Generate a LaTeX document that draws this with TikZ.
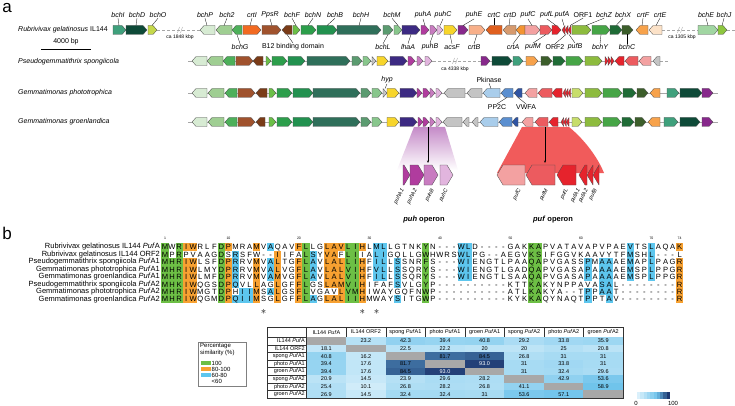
\documentclass[tikz,border=0pt]{standalone}
\usepackage{fontspec}
\setmainfont{Liberation Sans}
\usetikzlibrary{arrows.meta}

% gene colours
\definecolor{cI}{HTML}{3FA07C}
\definecolor{cD}{HTML}{0E4A38}
\definecolor{cO}{HTML}{C5D84B}
\definecolor{cP}{HTML}{D7EBD3}
\definecolor{cTwo}{HTML}{9FCE92}
\definecolor{cG}{HTML}{4DB05A}
\definecolor{cCrtI}{HTML}{F26A21}
\definecolor{cPpsR}{HTML}{A0522D}
\definecolor{cBtw}{HTML}{7A3B17}
\definecolor{cF}{HTML}{6BBF47}
\definecolor{cN}{HTML}{2C9E4B}
\definecolor{cB}{HTML}{22914F}
\definecolor{cH}{HTML}{2F6F5A}
\definecolor{cL}{HTML}{5B9B70}
\definecolor{cM}{HTML}{88C68C}
\definecolor{cLhaA}{HTML}{3C2A82}
\definecolor{cPuhA}{HTML}{B03C9E}
\definecolor{cPuhB}{HTML}{C87CC0}
\definecolor{cPuhC}{HTML}{E2B5DE}
\definecolor{cAcsF}{HTML}{F7D52B}
\definecolor{cPuhE}{HTML}{87288B}
\definecolor{cCrtB}{HTML}{F8B08A}
\definecolor{cCrtC}{HTML}{E0601F}
\definecolor{cCrtD}{HTML}{D69A6E}
\definecolor{cCrtA}{HTML}{F39432}
\definecolor{cPufC}{HTML}{F3A1A1}
\definecolor{cPufM}{HTML}{EC5B5F}
\definecolor{cPufL}{HTML}{E6232C}
\definecolor{cZ}{HTML}{8DBB3E}
\definecolor{cY}{HTML}{46A546}
\definecolor{cX}{HTML}{1F6B36}
\definecolor{cC}{HTML}{3C5E2B}
\definecolor{cCrtF}{HTML}{F7A24B}
\definecolor{cCrtE}{HTML}{FCE2C8}
\definecolor{cE}{HTML}{A1D6A2}
\definecolor{cJ}{HTML}{8DC63F}
\definecolor{cGrey}{HTML}{C4C4C4}
\definecolor{cPk}{HTML}{A9CDEB}
\definecolor{cPP}{HTML}{5B8FD0}
\definecolor{cVW}{HTML}{2F54A3}
\definecolor{cYg}{HTML}{C7DD6A}
\definecolor{cPufRed}{HTML}{F15B5B}
\definecolor{cPuhShade}{HTML}{C58BC8}
% alignment and table colours
\definecolor{alng}{HTML}{6DBF45}
\definecolor{alno}{HTML}{F7A131}
\definecolor{alnb}{HTML}{5DC6EE}
\definecolor{alnw}{HTML}{FFFFFF}
\definecolor{tabLow}{HTML}{E4F4FC}
\definecolor{tabMid}{HTML}{6EC3EB}
\definecolor{tabTop}{HTML}{13245F}
\definecolor{cellgrey}{HTML}{A8A8A8}

\tikzset{
  genebox/.style={draw=gray!60!black, line width=0.3pt, line join=round},
  glabel/.style={font=\fontsize{7}{8}\selectfont\itshape, inner sep=0.5pt},
  oplabel/.style={font=\fontsize{5.5}{6}\selectfont\itshape, inner sep=0.3pt, rotate=62, anchor=east},
  leader/.style={line width=0.3pt},
  backbone/.style={draw=gray!70, line width=0.4pt},
  gap/.style={draw=gray!70, line width=0.4pt, dash pattern=on 3pt off 2pt},
  breakline/.style={draw=gray!70, line width=0.4pt},
  gaplabel/.style={font=\fontsize{5}{6}\selectfont, inner sep=0pt},
  species/.style={font=\fontsize{7}{8}\selectfont, inner sep=0pt, anchor=west},
  alnspec/.style={font=\fontsize{7.5}{8}\selectfont, inner sep=0pt, anchor=east},
  res/.style={font=\fontsize{7.6}{8}\selectfont, inner sep=0pt, text height=5.5pt, text depth=0pt},
  tick/.style={font=\fontsize{3.5}{4}\selectfont, inner sep=0pt},
  tabtxt/.style={font=\fontsize{5.5}{6}\selectfont, inner sep=0pt},
  tabline/.style={draw=black!80, line width=0.3pt},
  panel/.style={font=\fontsize{17}{17}\selectfont, inner sep=0pt},
}

% one gene as an arrow, #5 = r or l
\def\geneh{4.5}
\def\genetip{4}
\newcommand\gene[5]{%
  \if#5r
    \filldraw[genebox, fill=#4] (#1,#3-\geneh) -- ({max(#1,#2-\genetip)},#3-\geneh) -- (#2,#3)
      -- ({max(#1,#2-\genetip)},#3+\geneh) -- (#1,#3+\geneh) -- cycle;
  \else
    \filldraw[genebox, fill=#4] (#2,#3-\geneh) -- ({min(#2,#1+\genetip)},#3-\geneh) -- (#1,#3)
      -- ({min(#2,#1+\genetip)},#3+\geneh) -- (#2,#3+\geneh) -- cycle;
  \fi}
\newcommand\breakmark[2]{%
  \draw[breakline] (#1-2.5,#2+3) -- (#1-0.5,#2-3) (#1+0.5,#2+3) -- (#1+2.5,#2-3);}

% alignment: one row from a residue string and a shade string
\newcount\alncol
\newcommand\alnrow[3]{%
  \global\alncol=0
  \def\alnrowno{#1}%
  \alnnext#2\relax#3\relax}
\def\alnnext#1#2\relax#3#4\relax{%
  \global\advance\alncol by 1
  \alncell{#1}{#3}%
  \ifx\relax#2\relax\else\alnnext#2\relax#4\relax\fi}
\newcommand\alncell[2]{%
  \pgfmathsetmacro\cellx{165+(\the\alncol-1)*7.05}%
  \pgfmathsetmacro\celly{247+(\alnrowno-1)*7.45}%
  \fill[aln#2] (\cellx-3.53,\celly-3.73) rectangle (\cellx+3.53,\celly+3.73);
  \node[res] (aln\alnrowno-\the\alncol) at (\cellx,\celly) {#1};}

\begin{document}
\begin{tikzpicture}[x=1pt, y=-1pt]
  \useasboundingbox (0,0) rectangle (735,406);

  \node[panel] (pa) at (7,8) {a};
  \node[panel] (pb) at (7,233) {b};

  % backbones and gaps
  \draw[gap] (157,30) -- (200,30) (662,30) -- (698,30) (727,30) -- (735,30);
  \draw[backbone] (188,61) -- (433,61) (481,61) -- (660,61);
  \draw[gap] (433,61) -- (481,61) (660,61) -- (668,61);
  \draw[backbone] (188,93) -- (718,93);
  \draw[backbone] (188,122) -- (718,122);
  \breakmark{180}{30}
  \breakmark{680}{30}
  \breakmark{455}{61}
  \node[gaplabel] (gap1) at (180,37) {ca 1848 kbp};
  \node[gaplabel] (gap2) at (682,37) {ca 1305 kbp};
  \node[gaplabel] (gap3) at (455,69) {ca 4338 kbp};

  % species
  \node[species] (sp1) at (18,30) {\textit{Rubrivivax gelatinosus} IL144};
  \node[species] (sp2) at (18,62) {\textit{Pseudogemmatithrix spongiicola}};
  \node[species] (sp3) at (18,93) {\textit{Gemmatimonas phototrophica}};
  \node[species] (sp4) at (18,122) {\textit{Gemmatimonas groenlandica}};

  % scale bar
  \node[species, anchor=center] (bar) at (66,42) {4000 bp};
  \draw[line width=0.5pt] (41,49) -- (91,49);

  % row 1
  \foreach \a/\b/\cl/\d in {113/126/cI/r, 126/147/cD/r, 148/157/cO/r,
      200/215/cP/l, 216/232/cTwo/l, 232/242/cG/l,
      243/261/cCrtI/r, 262/281/cPpsR/r, 282/292/cBtw/l,
      293/300/cF/r, 301/316/cN/r, 317/337/cB/r, 337/381/cH/r, 383/393/cL/r, 394/402/cM/r,
      402/420/cLhaA/r, 421/429/cPuhA/r, 430/437/cPuhB/r, 437/443/cPuhC/r, 444/457/cAcsF/r,
      458/468/cPuhE/r, 469/485/cCrtB/r,
      486/502/cCrtC/l, 503/516/cCrtD/l, 516/525/cCrtA/l,
      525/540/cPufC/r, 540/552/cPufM/r, 552/561/cPufL/r,
      562/565/cPufL/l, 565/568/cPufL/l, 568/571/cPufL/l,
      572/591/cZ/r, 592/610/cY/r, 610/622/cX/r, 622/633/cC/r,
      636/648/cCrtF/l, 649/662/cCrtE/l, 698/718/cE/r, 718/727/cJ/r}
    \gene{\a}{\b}{30}{\cl}{\d};

  % row 2
  \foreach \a/\b/\cl/\d in {192/207/cP/l, 207/223/cTwo/l, 223/235/cG/l, 236/253/cPpsR/r, 253/263/cBtw/l,
      266/271/cF/r, 272/287/cN/r, 288/305/cB/r, 307/350/cH/r, 352/362/cL/r, 363/371/cM/r, 372/376/cGrey/r,
      377/388/cAcsF/r, 390/407/cLhaA/r, 408/415/cPuhA/r, 417/423/cPuhB/r, 425/432/cPuhC/r,
      481/490/cPuhE/r, 492/512/cD/r, 513/523/cI/r, 526/538/cCrtF/r, 541/552/cC/r, 553/565/cX/r,
      566/583/cY/r, 585/602/cZ/r, 605/608/cPufL/r, 608/611/cPufL/r, 611/614/cPufL/r,
      615/624/cPufL/l, 625/638/cPufM/l, 639/651/cPufC/l, 653/660/cGrey/l}
    \gene{\a}{\b}{61}{\cl}{\d};

  % row 3
  \foreach \a/\b/\cl/\d in {192/207/cP/l, 208/224/cTwo/l, 225/237/cG/l, 238/255/cPpsR/r, 256/267/cBtw/l,
      269/276/cF/r, 277/292/cN/r, 293/313/cB/r, 313/360/cH/r, 361/371/cL/r, 372/382/cM/r, 383/387/cGrey/r,
      387/399/cAcsF/r, 400/417/cLhaA/r, 417/422/cPuhA/r, 423/430/cPuhA/r, 430/435/cPuhB/r, 436/442/cPuhC/r,
      444/465/cGrey/l, 467/482/cGrey/l, 483/500/cPk/l, 501/513/cPP/l, 514/522/cVW/l,
      525/537/cPufC/l, 538/552/cPufM/l, 552/562/cPufL/l, 563/565.5/cPufL/l, 565.5/568/cPufL/l, 568/570.5/cPufL/l,
      572/583/cYg/r, 585/602/cZ/r, 603/622/cY/r, 623/636/cX/r, 637/648/cC/r, 650/660/cCrtF/l,
      667/679/cI/r, 680/702/cD/r, 702/713/cPuhE/r}
    \gene{\a}{\b}{93}{\cl}{\d};

  % row 4
  \foreach \a/\b/\cl/\d in {192/207/cP/l, 208/224/cTwo/l, 225/237/cG/l, 238/255/cPpsR/r, 256/265/cBtw/l,
      269/276/cF/r, 277/292/cN/r, 293/313/cB/r, 313/360/cH/r, 361/371/cL/r, 372/382/cM/r,
      387/399/cAcsF/r, 400/417/cLhaA/r, 418/423/cPuhA/r, 423/429/cPuhA/r, 430/435/cPuhB/r, 436/442/cPuhC/r,
      443/462/cGrey/l, 463/469/cGrey/l, 472/478/cGrey/l, 480/498/cPk/l, 499/512/cPP/l, 512/518/cVW/l,
      522/533/cPufC/l, 535/548/cPufM/l, 549/558/cPufL/l, 561/563.7/cPufL/l, 563.7/566.3/cPufL/l, 566.3/569/cPufL/l,
      572/582/cYg/r, 585/602/cZ/r, 603/621/cY/r, 622/634/cX/r, 635/646/cC/r, 648/660/cCrtF/l,
      664/678/cI/r, 680/700/cD/r, 702/713/cPuhE/r}
    \gene{\a}{\b}{122}{\cl}{\d};

  % labels over row 1
  \foreach \lab/\lx/\gx [count=\i] in {bchI/118/119, bchD/137/136, bchO/158/152, bchP/205/207,
      bch2/227/224, crtI/252/250, PpsR/270/272, bchF/292/296, bchN/313/308, bchB/335/327,
      bchH/361/359, bchM/392/398, puhA/423/425, puhC/443/440, puhE/474/463, crtC/494/494,
      crtD/510/509, pufC/528/532, pufL/547/556, pufA/562/564, {\upshape ORF1}/583/570,
      bchZ/604/586, bchX/623/616, crtF/643/642, crtE/660/656, bchE/706/708, bchJ/724/722} {
    \node[glabel] (up\i) at (\lx,15) {\lab};
    \draw[leader] (up\i.south) -- (\gx,25.5);
  }
  % labels under row 1
  \foreach \lab/\lx/\gx [count=\i] in {bchG/240/237, {\upshape B12 binding domain}/293/287,
      bchL/383/388, lhaA/408/411, puhB/430/433, acsF/452/450, crtB/474/477, crtA/513/520,
      pufM/533/546, {\upshape ORF2}/555/566, pufB/575/569, bchY/600/601, bchC/627/627} {
    \node[glabel] (dn\i) at (\lx,47) {\lab};
    \draw[leader] (\gx,34.5) -- (dn\i.north);
  }
  % labels on row 3
  \node[glabel] (hyp) at (387,80) {hyp};
  \draw[leader] (hyp.south) -- (385,88.5);
  \node[glabel] (pkin) at (489,80) {\upshape Pkinase};
  \draw[leader] (pkin.south) -- (491,88.5);
  \node[glabel] (pp2c) at (497,107) {\upshape PP2C};
  \draw[leader] (507,97.5) -- (pp2c.north);
  \node[glabel] (vwfa) at (526,107) {\upshape VWFA};
  \draw[leader] (518,97.5) -- (vwfa.north);

  % puh operon close-up
  \shade[top color=cPuhShade, bottom color=white] (414,127) -- (445,127) -- (458,170) -- (397,170) -- cycle;
  \draw[-{Stealth[length=2.5pt,width=2pt]}, line width=0.4pt] (428,127) -- (428,163);
  % puf operon close-up
  \fill[cPufRed] (522,127) -- (569,127) .. controls (585,140) and (598,158) .. (604,173) -- (497,173) -- cycle;
  \draw[-{Stealth[length=2.5pt,width=2pt]}, line width=0.4pt] (545,127) -- (545,163);
  \begin{scope}
    \def\geneh{10}
    \def\genetip{6}
    \foreach \a/\b/\cl/\d in {403/410/cPuhA/r, 410/424/cPuhA/r, 424/438/cPuhB/r, 440/453/cPuhC/r,
        497/525/cPufC/l, 526/555/cPufM/l, 557/576/cPufL/l, 579/587/cPufL/l, 587/593/cPufL/l, 593/599/cPufL/l}
      \gene{\a}{\b}{175}{\cl}{\d};
  \end{scope}
  \foreach \lab/\lx [count=\i] in {puhA1/403, puhA2/416, puhB/433, puhC/447,
      pufC/520, pufM/547, pufL/567, pufA1/579, pufA2/587, pufB/596}
    \node[oplabel] (op\i) at (\lx,189) {\lab};
  \node[font=\fontsize{7.5}{8}\selectfont\bfseries] (puhop) at (424,220) {\textit{puh} operon};
  \node[font=\fontsize{7.5}{8}\selectfont\bfseries] (pufop) at (553,220) {\textit{puf} operon};

  % ---- b: alignment ----
  \foreach \n in {1,10,20,30,40,50,60,70,74}
    \node[tick] (tk\n) at ({165+(\n-1)*7.05},238.5) {\n};
  \foreach \lab [count=\i] in {Rubrivivax gelatinosus IL144 \textit{Puf}A,
      Rubrivivax gelatinosus IL144 ORF2, Pseudogemmatithrix spongiicola \textit{Puf}A1,
      Gemmatimonas phototrophica \textit{Puf}A1, Gemmatimonas groenlandica \textit{Puf}A1,
      Pseudogemmatithrix spongiicola \textit{Puf}A2, Gemmatimonas phototrophica \textit{Puf}A2,
      Gemmatimonas groenlandica \textit{Puf}A2}
    \node[alnspec] (al\i) at (160,{247+(\i-1)*7.45}) {\lab};

  \alnrow{1}{MWRIWRLFDPMRAMVAQAVFLLGLAVLIHLMLLGTNKYN---WLD----GAKKAPVATAVAPVPAEVTSLAQAK}%
    {gwgoowwwgowwwowbwwwogwwoooggowbbwwwwwgwwwwbbwwwwwwwwggwwwwwwwwwwwwbwwbwwwo}
  \alnrow{2}{MPRPVAAGDSRSFW--IIFALSYVAFLIIALIGQLLGWHWRSWLPG--AEGVKSIFGGVKAAVYTFMSHL---L}%
    {gwgwwwwwgwbwwwwwowwwgbwoowggwwbbwwwwwgwwwwbbwwwwwwwwggwwwwwwwwwwwwbwwbwwww}
  \alnrow{3}{MHRIWLSFDPRRVMVALTGFLAVLALLIHFILLSSNRFS---WIENGTLPAAQAPVGASSPMAAAEMAPLPAGR}%
    {gggoowwwgobwwowbowwogbwoooggowbbwbwwwgwwwwbbwwwwwwwwggwwwwwwbwbbwwbwwbwwwo}
  \alnrow{4}{MHRIWLMYDPRRVMVALVGFLAVLALVIHFVLLSSQRYS---WIENGTLGADQAPVGASAPAAAAEMSPLPPGR}%
    {gggoowwwgobwwowbowwogbwoooggowbbwbwwwgwwwwbbwwwwwwwwggwwwwwwbwbbwwbwwbwwwo}
  \alnrow{5}{MHRIWLMFDPRRVMVAMVGFLAVLALVIHFILLSSQRYS---WIENGTLSAAQAPVGASAPAAAAEMSPLPPGR}%
    {gggoowwwgobwwowbowwogbwoooggowbbwbwwwgwwwwbbwwwwwwwwggwwwwwwbwbbwwbwwbwwwo}
  \alnrow{6}{MHKIWQGSDPQVLLAGLGFFLGSLAMVIHIFAFSVLGYP----------KTTKAKYNPPAVASAL--------R}%
    {gggoowwwgobwwowwowwogwwoooggowwwwbwwwgwwwwwwwwwwwwwwggwwwwwwwwbbwwwwwwwwwo}
  \alnrow{7}{MHRIWMGTDPHIIMSALGSFLVGAVLVMHIWAYGQFNWP----------ATLKAKYA--TPPAAT--------R}%
    {gggoowwwgowbbowbowwogwwwwoggowwwwwwwwgwwwwwwwwwwwwwwggwwwwwwbwbbwwwwwwwwwo}
  \alnrow{8}{MHRIWQGMDPQIIMSGLGFFLAGLALIIHMWAYSITGWP----------KYKKAQYNAQTPPTAV--------R}%
    {gggoowwwgobbbowwowwogbwoooggowwwwbwwwgwwwwwwwwwwwwwwggwwwwwwbwwbwwwwwwwwwo}

  \foreach \n in {15,29,31}
    \node[font=\fontsize{11}{11}\selectfont, inner sep=0pt] (st\n) at ({165+(\n-1)*7.05},312) {$\ast$};

  % legend
  \draw[draw=gray, line width=0.4pt] (198,342) rectangle (246,386);
  \node[tabtxt, font=\fontsize{6}{6}\selectfont, anchor=west] (lgt1) at (200,346) {Percentage};
  \node[tabtxt, font=\fontsize{6}{6}\selectfont, anchor=west] (lgt2) at (200,353) {similarity (\%)};
  \foreach \cl/\lab [count=\i] in {alng/100, alno/80-100, alnb/60-80, alnw/{<}60} {
    \fill[\cl] (201,{354.5+\i*6}) rectangle (211,{359+\i*6});
    \node[tabtxt, font=\fontsize{6}{6}\selectfont, anchor=west] (lg\i) at (211.5,{357+\i*6}) {\lab};
  }

  % ---- b: similarity table ----
  \foreach \cc in {0,...,8}
    \draw[tabline] ({267+\cc*39.56},327) rectangle ++(39.56,10.2);
  \foreach \h [count=\cc] in {IL144 \textit{Puf}A, IL144 ORF2, spong \textit{Puf}A1, photo \textit{Puf}A1,
      groen \textit{Puf}A1, spong \textit{Puf}A2, photo \textit{Puf}A2, groen \textit{Puf}A2}
    \node[tabtxt] (hd\cc) at ({267+(\cc+0.5)*39.56},332.1) {\h};
  \foreach \lab/\vals [count=\rw] in {IL144 \textit{Puf}A/{0,23.2,42.3,39.4,40.8,29.2,33.8,35.9},
      IL144 ORF2/{18.1,0,22.5,22.2,20,20,25,20.8},
      spong \textit{Puf}A1/{40.8,16.2,0,81.7,84.5,26.8,31,31},
      photo \textit{Puf}A1/{39.4,17.6,81.7,0,93.0,31,33.8,31},
      groen \textit{Puf}A1/{39.4,17.6,84.5,93.0,0,31,32.4,29.6},
      spong \textit{Puf}A2/{20.9,14.5,23.9,29.6,28.2,0,42.9,53.6},
      photo \textit{Puf}A2/{25.4,10.1,26.8,28.2,26.8,41.1,0,58.9},
      groen \textit{Puf}A2/{26.9,14.5,32.4,32.4,31,53.6,57.1,0}} {
    \draw[tabline] (267,{337.2+(\rw-1)*7.6}) rectangle ++(39.56,7.6);
    \node[tabtxt, anchor=east] (rl\rw) at (305,{337.2+(\rw-0.5)*7.6}) {\lab};
    \foreach \val [count=\cc] in \vals {
      \ifdim\val pt=0pt
        \fill[cellgrey] ({267+\cc*39.56},{337.2+(\rw-1)*7.6}) rectangle ++(39.56,7.6);
      \else
        \pgfmathsetmacro\pp{min(100,\val/60*100)}
        \pgfmathsetmacro\qq{max(0,(\val-60)/40*100)}
        \ifdim\val pt>90pt \def\tc{white}\else\def\tc{black}\fi
        \fill[tabTop!\qq!tabMid!\pp!tabLow] ({267+\cc*39.56},{337.2+(\rw-1)*7.6}) rectangle ++(39.56,7.6);
        \node[tabtxt, text=\tc] (tv\rw-\cc) at ({267+(\cc+0.5)*39.56},{337.2+(\rw-0.5)*7.6}) {\val};
      \fi
    }
  }
  \draw[tabline] (267,327) rectangle (623,398);

  % colour bar
  \foreach \k in {0,...,9} {
    \pgfmathsetmacro\val{\k*10+5}
    \pgfmathsetmacro\pp{min(100,\val/60*100)}
    \pgfmathsetmacro\qq{max(0,(\val-60)/40*100)}
    \fill[tabTop!\qq!tabMid!\pp!tabLow] ({637+\k*3.3},392) rectangle ++(3.3,7);
  }
  \node[tabtxt, font=\fontsize{6}{6}\selectfont, anchor=south] (cb0) at (636,405.5) {0};
  \node[tabtxt, font=\fontsize{6}{6}\selectfont, anchor=south] (cb100) at (673,405.5) {100};
\end{tikzpicture}
\end{document}
